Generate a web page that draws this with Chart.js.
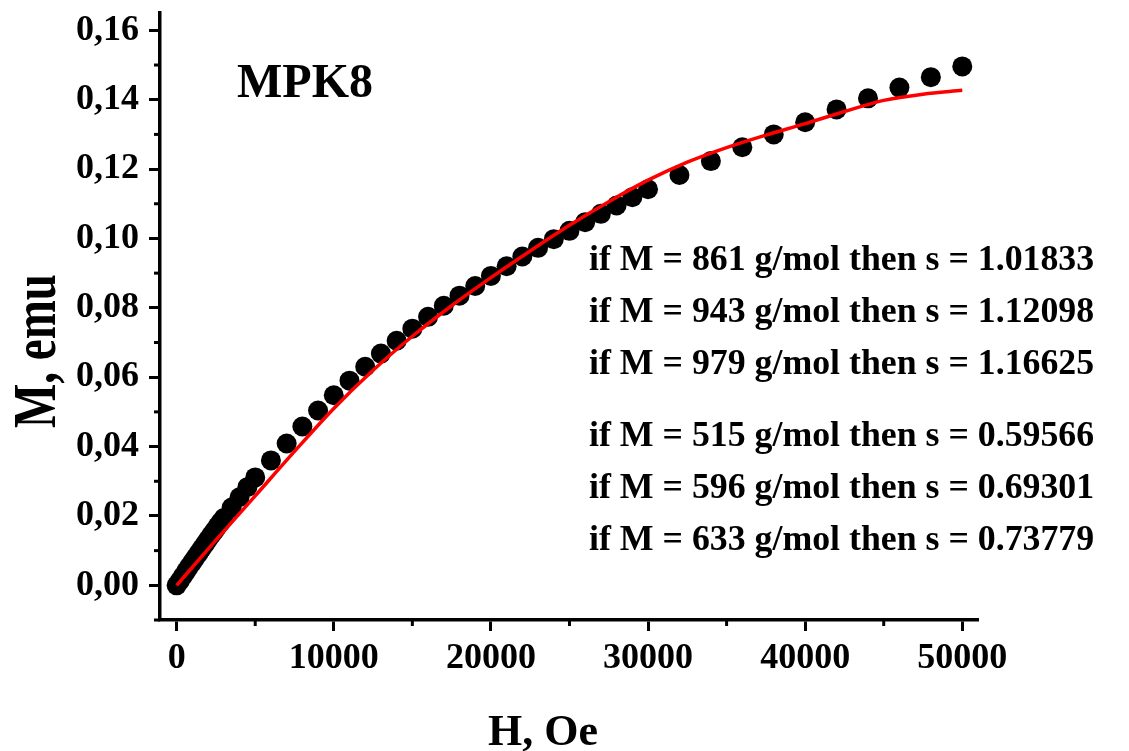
<!DOCTYPE html>
<html>
<head>
<meta charset="utf-8">
<script src="https://cdn.jsdelivr.net/npm/chart.js@4/dist/chart.umd.min.js"></script>
<style>
  html, body { margin: 0; padding: 0; background: #fff; }
  #wrap { width: 1129px; height: 751px; position: relative; }
</style>
</head>
<body>
<div id="wrap"><canvas id="chart"></canvas></div>
<script>
// measured points: field H (Oe) vs moment M (emu)
const fieldH = [0, 200, 400, 600, 800, 1000, 1200, 1400, 1600, 1800, 2000, 2200, 2400, 2600, 2800, 3000,
    3500, 4000, 4500, 5000, 6000, 7000, 8000, 9000, 10000, 11000, 12000, 13000, 14000, 15000,
    16000, 17000, 18000, 19000, 20000, 21000, 22000, 23000, 24000, 25000, 26000, 27000, 28000, 29000, 30000,
    32000, 34000, 36000, 38000, 40000, 42000, 44000, 46000, 48000, 50000];
const momentM = [0, 0.0013, 0.0027, 0.0040, 0.0054, 0.0067, 0.0080, 0.0093, 0.0106, 0.0119, 0.0132, 0.0145, 0.0157, 0.0170, 0.0182, 0.0194,
    0.0224, 0.0254, 0.0283, 0.0311, 0.0360, 0.0409, 0.0458, 0.0504, 0.0548, 0.0590, 0.0630, 0.0668, 0.0705, 0.0740,
    0.0774, 0.0806, 0.0835, 0.0863, 0.0892, 0.0920, 0.0948, 0.0973, 0.0998, 0.1022, 0.1047, 0.1071, 0.1095, 0.1119, 0.1142,
    0.1183, 0.1223, 0.1263, 0.1300, 0.1335, 0.1372, 0.1404, 0.1435, 0.1465, 0.1496];

// red fit curve
const fitH = [0, 2500, 5000, 7500, 10000, 12500, 15000, 17500, 20000, 22500, 25000,
    27500, 30000, 32500, 35000, 37500, 40000, 42500, 45000, 47500, 50000];
const fitM = [0, 0.0130, 0.0258, 0.0386, 0.0510, 0.0620, 0.0718, 0.0806, 0.0887, 0.0964, 0.1038,
    0.1106, 0.1168, 0.1220, 0.1262, 0.1298, 0.1331, 0.1366, 0.1398, 0.1416, 0.1427];

const xTicks = [0, 10000, 20000, 30000, 40000, 50000];
const xMinorTicks = [5000, 15000, 25000, 35000, 45000];
const yTicks = [0, 0.02, 0.04, 0.06, 0.08, 0.10, 0.12, 0.14, 0.16];
const yMinorTicks = [-0.01, 0.01, 0.03, 0.05, 0.07, 0.09, 0.11, 0.13, 0.15];

const sampleName = 'MPK8';
const noteLines = [
    'if M = 861 g/mol then s = 1.01833',
    'if M = 943 g/mol then s = 1.12098',
    'if M = 979 g/mol then s = 1.16625',
    'if M = 515 g/mol then s = 0.59566',
    'if M = 596 g/mol then s = 0.69301',
    'if M = 633 g/mol then s = 0.73779',
];
const xTitle = 'H, Oe';
const yTitle = 'M, emu';

const SERIF = '"Liberation Serif", "Times New Roman", serif';

// minor ticks, axis titles and the text block drawn straight on the canvas
const extrasPlugin = {
    id: 'extras',
    afterDraw(chart) {
        const { ctx, chartArea, scales: { x, y } } = chart;
        ctx.save();
        ctx.strokeStyle = '#000';
        ctx.lineWidth = 3;
        xMinorTicks.forEach(v => {
            const px = x.getPixelForValue(v);
            ctx.beginPath();
            ctx.moveTo(px, chartArea.bottom);
            ctx.lineTo(px, chartArea.bottom + 6);
            ctx.stroke();
        });
        yMinorTicks.forEach(v => {
            const py = y.getPixelForValue(v);
            ctx.beginPath();
            ctx.moveTo(chartArea.left, py);
            ctx.lineTo(chartArea.left - 6, py);
            ctx.stroke();
        });

        ctx.fillStyle = '#000';
        ctx.textBaseline = 'alphabetic';
        ctx.textAlign = 'left';
        ctx.font = `bold 48px ${SERIF}`;
        ctx.fillText(sampleName, 237, 97);

        ctx.font = `bold 35.8px ${SERIF}`;
        const baselines = [270, 322, 374, 446, 498, 550];
        noteLines.forEach((t, i) => ctx.fillText(t, 589, baselines[i]));

        ctx.textAlign = 'center';
        ctx.font = `bold 44px ${SERIF}`;
        ctx.fillText(xTitle, 543, 745);

        // y title is drawn taller than wide in the original
        ctx.translate(55, 351);
        ctx.rotate(-Math.PI / 2);
        ctx.scale(1, 1.3);
        ctx.font = `bold 47px ${SERIF}`;
        ctx.fillText(yTitle, 0, 0);
        ctx.restore();
    },
};

const ctx = document.getElementById('chart').getContext('2d');
new Chart(ctx, {
    type: 'scatter',
    data: {
        datasets: [
            {
                label: 'fit',
                data: fitH.map((h, i) => ({ x: h, y: fitM[i] })),
                showLine: true,
                borderColor: '#ff0000',
                borderWidth: 3.5,
                pointRadius: 0,
                cubicInterpolationMode: 'monotone',
                order: 0,
            },
            {
                label: 'data',
                data: fieldH.map((h, i) => ({ x: h, y: momentM[i] })),
                backgroundColor: '#000',
                borderColor: '#000',
                borderWidth: 0,
                pointRadius: 10,
                order: 1,
            },
        ],
    },
    options: {
        responsive: true,
        maintainAspectRatio: false,
        animation: false,
        layout: { padding: { top: 13, right: 151, left: 0, bottom: 0 } },
        plugins: { legend: { display: false }, tooltip: { enabled: false } },
        scales: {
            x: {
                type: 'linear',
                min: -1060,
                max: 51000,
                afterBuildTicks: s => { s.ticks = xTicks.map(v => ({ value: v })); },
                afterFit: s => { s.height = 131; s.paddingLeft = 0; s.paddingRight = 0; },
                border: { display: true, color: '#000', width: 3.5 },
                grid: { drawOnChartArea: false, drawTicks: true, tickLength: 11, tickWidth: 3, tickColor: '#000' },
                ticks: {
                    color: '#000',
                    padding: 6,
                    maxRotation: 0,
                    font: { family: SERIF, weight: 'bold', size: 36 },
                    callback: v => String(v),
                },
            },
            y: {
                type: 'linear',
                min: -0.01,
                max: 0.165,
                afterBuildTicks: s => { s.ticks = yTicks.map(v => ({ value: v })); },
                afterFit: s => { s.width = 160; s.paddingTop = 0; s.paddingBottom = 0; },
                border: { display: true, color: '#000', width: 3.5 },
                grid: { drawOnChartArea: false, drawTicks: true, tickLength: 11, tickWidth: 3, tickColor: '#000' },
                ticks: {
                    color: '#000',
                    padding: 10,
                    font: { family: SERIF, weight: 'bold', size: 36 },
                    callback: v => v.toFixed(2).replace('.', ','),
                },
            },
        },
    },
    plugins: [extrasPlugin],
});
</script>
</body>
</html>
